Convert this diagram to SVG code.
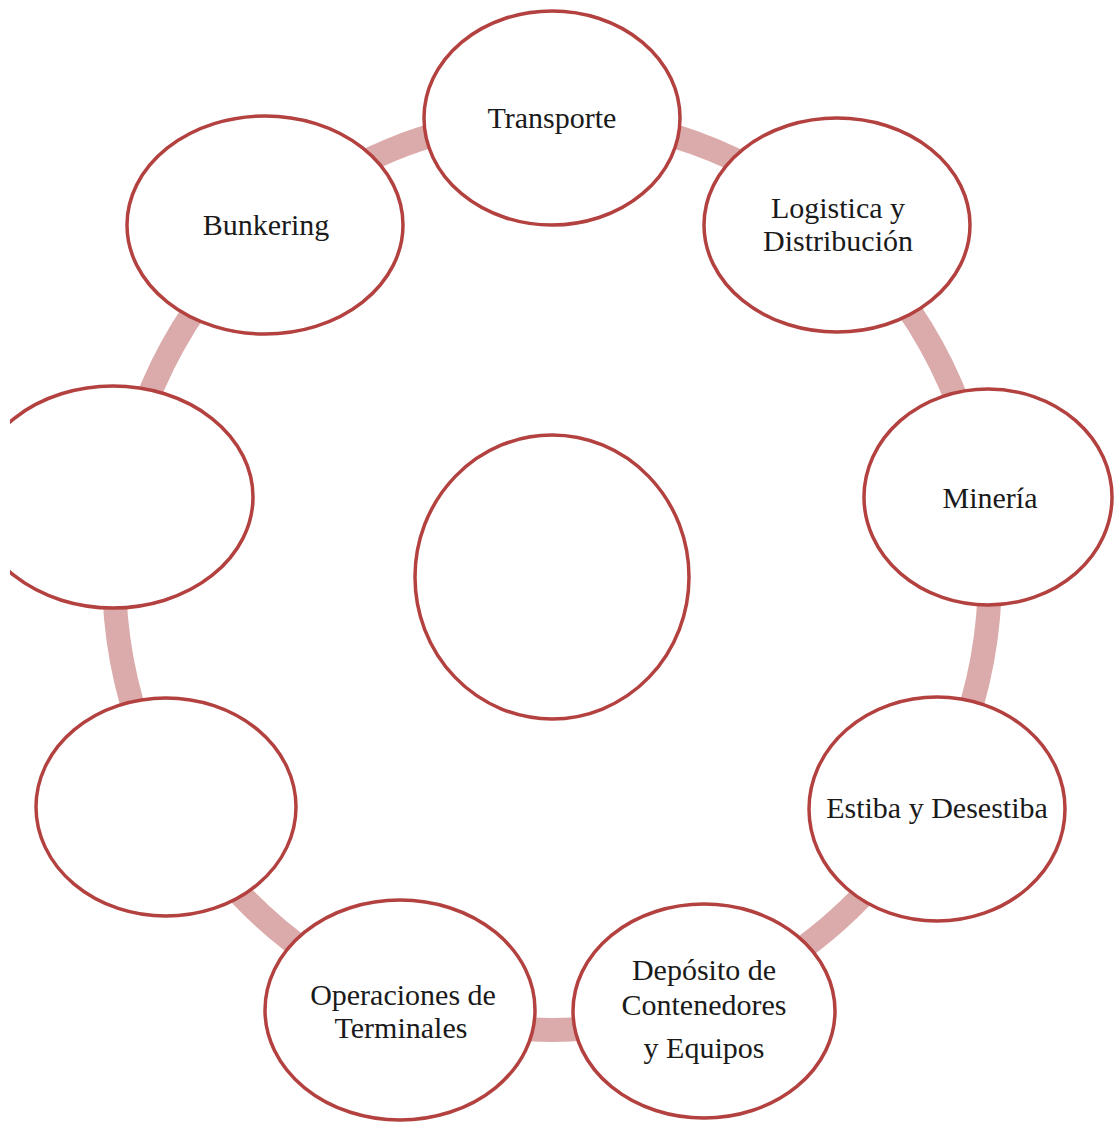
<svg xmlns="http://www.w3.org/2000/svg" width="1115" height="1124" viewBox="0 0 1115 1124">
<style>
.node{fill:#ffffff;stroke:#b3413f;stroke-width:3.5}
.ring{fill:none;stroke:#dbaaaa;stroke-width:24}
text{font-family:"Liberation Serif","Times New Roman",serif;font-size:30px;fill:#1a1a1a;text-anchor:middle}
</style>
<defs>
<clipPath id="clipL"><rect x="10" y="0" width="1105" height="1124"/></clipPath>
</defs>
<rect width="1115" height="1124" fill="#ffffff"/>
<g id="connectors">
<ellipse class="ring" cx="552" cy="574" rx="438" ry="456"/>
</g>
<g id="n-transporte">
<ellipse class="node" cx="552" cy="118" rx="128" ry="107"/>
<text x="552" y="128">Transporte</text>
</g>
<g id="n-logistica">
<ellipse class="node" cx="837" cy="225" rx="133" ry="107"/>
<text x="838" y="218">Logistica y</text>
<text x="838" y="251">Distribución</text>
</g>
<g id="n-mineria">
<ellipse class="node" cx="988" cy="497" rx="124" ry="108"/>
<text x="990" y="508">Minería</text>
</g>
<g id="n-estiba">
<ellipse class="node" cx="937" cy="809" rx="128" ry="112"/>
<text x="937" y="818">Estiba y Desestiba</text>
</g>
<g id="n-deposito">
<ellipse class="node" cx="704" cy="1011" rx="131" ry="107"/>
<text x="704" y="980">Depósito de</text>
<text x="704" y="1015">Contenedores</text>
<text x="704" y="1058">y Equipos</text>
</g>
<g id="n-operaciones">
<ellipse class="node" cx="400" cy="1010" rx="135" ry="110"/>
<text x="403" y="1005">Operaciones de</text>
<text x="401" y="1038">Terminales</text>
</g>
<g id="n-lowerleft">
<ellipse class="node" cx="166" cy="807" rx="130" ry="109"/>
</g>
<g id="n-left" clip-path="url(#clipL)">
<ellipse class="node" cx="113" cy="497" rx="140" ry="111"/>
</g>
<g id="n-bunkering">
<ellipse class="node" cx="265" cy="225" rx="138" ry="109"/>
<text x="266" y="235">Bunkering</text>
</g>
<g id="n-center">
<ellipse class="node" cx="552" cy="577" rx="137" ry="142"/>
</g>
</svg>
